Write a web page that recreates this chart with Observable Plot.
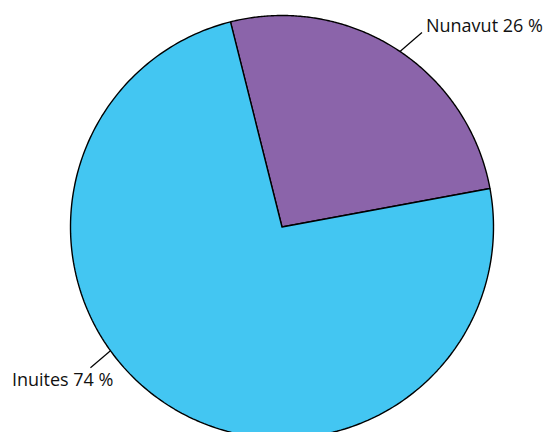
<!DOCTYPE html>
<html>
<head>
<meta charset="utf-8">
<script src="https://cdn.jsdelivr.net/npm/d3@7"></script>
<script src="https://cdn.jsdelivr.net/npm/@observablehq/plot@0.6"></script>
<style>
  html, body { margin: 0; padding: 0; background: #fff; }
  #chart { width: 544px; height: 432px; overflow: hidden; }
</style>
</head>
<body>
<div id="chart"></div>
<script>
const categories = ["Nunavut", "Inuites"];
const values = [26, 74];
const labels = ["Nunavut 26 %", "Inuites 74 %"];
const colors = ["#8b64aa", "#43c6f2"];

const deg = Math.PI / 180;
const R = 211.5; // radius in px
const startAngle = -14.1 * deg;
const labelAngles = [33.9 * deg, 234.2 * deg];
const leaderOffsets = [[22, -19], [-20, 17]]; // px offset of leader outer end

const pie = d3.pie().sort(null).value(d => d.value)
  .startAngle(startAngle).endAngle(startAngle + 2 * Math.PI);
const arcs = pie(categories.map((c, i) => ({category: c, value: values[i]})));

const slicePts = [];
for (const a of arcs) {
  const n = 240;
  slicePts.push({category: a.data.category, x: 0, y: 0});
  for (let k = 0; k <= n; k++) {
    const t = a.startAngle + (a.endAngle - a.startAngle) * k / n;
    slicePts.push({category: a.data.category, x: Math.sin(t), y: Math.cos(t)});
  }
  slicePts.push({category: a.data.category, x: 0, y: 0});
}

const leaders = categories.map((c, i) => {
  const x1 = Math.sin(labelAngles[i]), y1 = Math.cos(labelAngles[i]);
  return {
    category: c, label: labels[i], x1, y1,
    x2: x1 + leaderOffsets[i][0] / R, y2: y1 - leaderOffsets[i][1] / R
  };
});

const plot = Plot.plot({
  width: 544,
  height: 432,
  margin: 0,
  x: {domain: [-1, 1], range: [70, 493], axis: null},
  y: {domain: [-1, 1], range: [438, 15], axis: null},
  color: {domain: categories, range: colors},
  style: {fontFamily: "'Open Sans', sans-serif", background: "white"},
  marks: [
    Plot.line(slicePts, {x: "x", y: "y", z: "category", fill: "category", stroke: "black", strokeWidth: 1.4, curve: "linear", strokeLinejoin: "miter"}),
    Plot.link(leaders, {x1: "x1", y1: "y1", x2: "x2", y2: "y2", stroke: "black", strokeWidth: 1.2}),
    Plot.text([leaders[0]], {x: "x2", y: "y2", text: "label", textAnchor: "start", dx: 4, dy: -6, fontSize: 18, fill: "#111"}),
    Plot.text([leaders[1]], {x: "x2", y: "y2", text: "label", textAnchor: "end", dx: 23, dy: 13, fontSize: 18, fill: "#111"})
  ]
});
document.getElementById("chart").appendChild(plot);
</script>
</body>
</html>
